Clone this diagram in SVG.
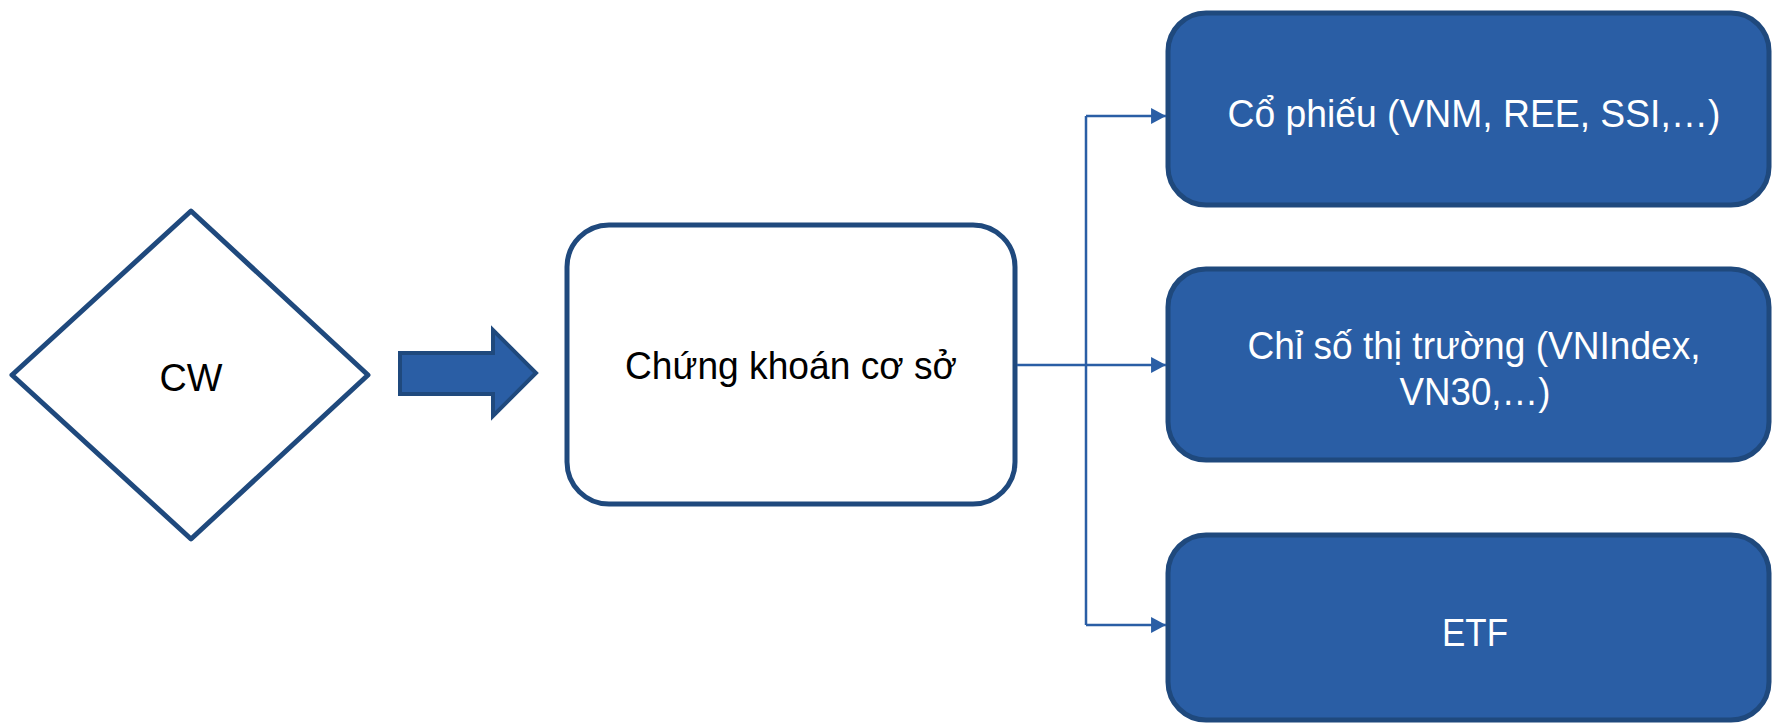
<svg xmlns="http://www.w3.org/2000/svg" width="1773" height="725" viewBox="0 0 1773 725">
<style>
.outline{fill:#ffffff;stroke:#1F497D;stroke-width:5;stroke-linejoin:round}
.blue{fill:#2A5EA5;stroke:#1F497D;stroke-width:5}
.conn{fill:none;stroke:#2A5EA5;stroke-width:2.5}
.tb{font-family:"Liberation Sans",Arial,sans-serif;font-size:39px;fill:#000000;text-anchor:middle}
.tw{font-family:"Liberation Sans",Arial,sans-serif;font-size:39px;fill:#ffffff;text-anchor:middle}
</style>
<defs>
<marker id="ah" markerUnits="userSpaceOnUse" markerWidth="16" markerHeight="16" viewBox="0 0 14 15" refX="14" refY="7.5" orient="auto">
<path d="M0,0 L14,7.5 L0,15 Z" fill="#2A5EA5"/>
</marker>
</defs>
<rect width="1773" height="725" fill="#ffffff"/>
<g id="cw">
<polygon class="outline" points="191,211 368,375 191,539 12,375"/>
<text class="tb" x="191" y="391" textLength="63" lengthAdjust="spacingAndGlyphs">CW</text>
</g>
<g id="arrow">
<polygon points="400,353 493,353 493,330 536,373 493,416 493,394 400,394" fill="#2A5EA5" stroke="#1F497D" stroke-width="4" stroke-linejoin="miter"/>
</g>
<g id="ckcs">
<rect class="outline" x="567" y="225" width="448" height="279" rx="42"/>
<text class="tb" x="791" y="379" textLength="332" lengthAdjust="spacingAndGlyphs">Chứng khoán cơ sở</text>
</g>
<g id="cophieu">
<rect class="blue" x="1168" y="13" width="601" height="192" rx="38"/>
<text class="tw" x="1474" y="127" textLength="493" lengthAdjust="spacingAndGlyphs">Cổ phiếu (VNM, REE, SSI,…)</text>
</g>
<g id="chiso">
<rect class="blue" x="1168" y="269" width="601" height="191" rx="38"/>
<text class="tw" x="1474" y="359" textLength="453" lengthAdjust="spacingAndGlyphs">Chỉ số thị trường (VNIndex,</text>
<text class="tw" x="1475" y="405" textLength="151" lengthAdjust="spacingAndGlyphs">VN30,…)</text>
</g>
<g id="etf">
<rect class="blue" x="1168" y="535" width="601" height="185" rx="38"/>
<text class="tw" x="1475" y="646" textLength="66" lengthAdjust="spacingAndGlyphs">ETF</text>
</g>
<g id="connectors">
<path class="conn" d="M1017,365 H1166" marker-end="url(#ah)"/>
<path class="conn" d="M1086,116 V625"/>
<path class="conn" d="M1086,116 H1166" marker-end="url(#ah)"/>
<path class="conn" d="M1086,625 H1166" marker-end="url(#ah)"/>
</g>
</svg>
